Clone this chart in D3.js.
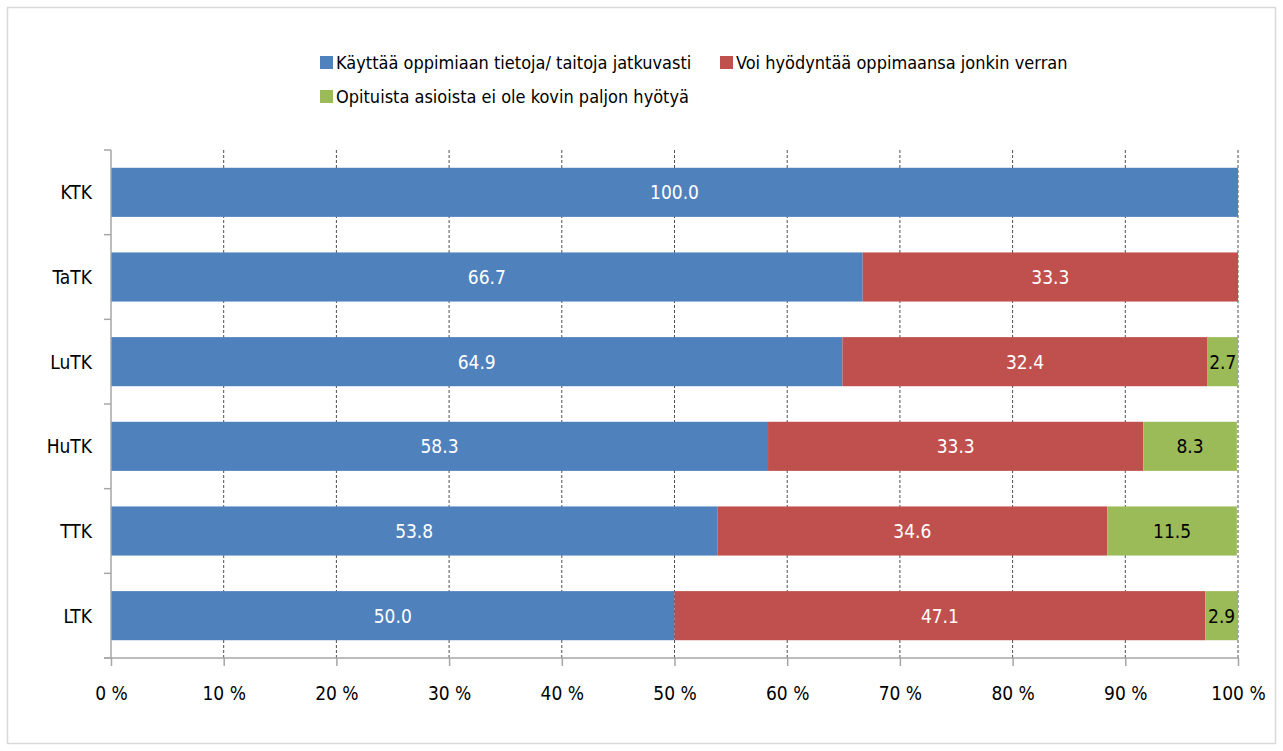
<!DOCTYPE html>
<html>
<head>
<meta charset="utf-8">
<script src="https://cdn.jsdelivr.net/npm/d3@7"></script>
<style>
  body { margin: 0; background: #fff; }
  svg text { font-family: "Liberation Sans Narrow", "DejaVu Sans Condensed", "Open Sans", sans-serif; }
</style>
</head>
<body>
<svg id="chart" width="1283" height="751"></svg>
<script>
var categories = ["KTK", "TaTK", "LuTK", "HuTK", "TTK", "LTK"];
var seriesNames = ["Käyttää oppimiaan tietoja/ taitoja jatkuvasti",
    "Voi hyödyntää oppimaansa jonkin verran",
    "Opituista asioista ei ole kovin paljon hyötyä"];
var useAlways = [100.0, 66.7, 64.9, 58.3, 53.8, 50.0];
var useSome = [0, 33.3, 32.4, 33.3, 34.6, 47.1];
var noUse = [0, 0, 2.7, 8.3, 11.5, 2.9];
var xTicks = [0, 10, 20, 30, 40, 50, 60, 70, 80, 90, 100];

var colors = ["#4f81bd", "#c0504d", "#9bbb59"];
var labelColors = ["#fff", "#fff", "#000"];

var svg = d3.select("#chart");
var chart_width = +svg.attr("width");
var chart_height = +svg.attr("height");

// outer frame
svg.append("rect")
    .attr("x", 7.5).attr("y", 7.5)
    .attr("width", chart_width - 15).attr("height", chart_height - 15)
    .attr("fill", "#fff")
    .attr("stroke", "#d9d9d9")
    .attr("stroke-width", 1.5);

var margin = {left: 111, right: 45, top: 150, bottom: 93};
var x = d3.scaleLinear()
    .domain([0, 100])
    .range([margin.left, chart_width - margin.right]);
var y = d3.scaleBand()
    .domain(categories)
    .range([margin.top, chart_height - margin.bottom])
    .paddingInner(0.42)
    .paddingOuter(0.21);

// gridlines
svg.append("g")
    .selectAll("line")
    .data(xTicks.slice(1))
    .enter()
    .append("line")
    .attr("x1", function (d) { return x(d); })
    .attr("x2", function (d) { return x(d); })
    .attr("y1", margin.top)
    .attr("y2", chart_height - margin.bottom)
    .attr("stroke", "#222")
    .attr("stroke-width", 0.8)
    .attr("stroke-dasharray", "3,2");

// stacked data
var rows = categories.map(function (c, i) {
    return {cat: c, values: [useAlways[i], useSome[i], noUse[i]]};
});

var bars = svg.append("g");
rows.forEach(function (r) {
    var start = 0;
    r.values.forEach(function (v, k) {
        if (v > 0) {
            bars.append("rect")
                .attr("x", x(start))
                .attr("y", y(r.cat))
                .attr("width", x(start + v) - x(start))
                .attr("height", y.bandwidth())
                .attr("fill", colors[k]);
            bars.append("text")
                .attr("x", (x(start) + x(start + v)) / 2)
                .attr("y", y(r.cat) + y.bandwidth() / 2)
                .attr("dy", "0.36em")
                .attr("text-anchor", "middle")
                .attr("font-size", "19px")
                .attr("fill", labelColors[k])
                .text(v.toFixed(1));
        }
        start += v;
    });
});

// y axis
var yAxis = svg.append("g")
    .attr("transform", "translate(" + margin.left + ",0)");
yAxis.append("line")
    .attr("x1", 0).attr("x2", 0)
    .attr("y1", margin.top).attr("y2", chart_height - margin.bottom)
    .attr("stroke", "#a6a6a6").attr("stroke-width", 1.5);
var step = y.step();
d3.range(categories.length + 1).forEach(function (i) {
    var yy = margin.top + i * step;
    yAxis.append("line")
        .attr("x1", -7).attr("x2", 0)
        .attr("y1", yy).attr("y2", yy)
        .attr("stroke", "#a6a6a6").attr("stroke-width", 1.5);
});
yAxis.selectAll("text.cat")
    .data(categories)
    .enter()
    .append("text")
    .attr("class", "cat")
    .attr("x", -19)
    .attr("y", function (d) { return y(d) + y.bandwidth() / 2; })
    .attr("dy", "0.36em")
    .attr("text-anchor", "end")
    .attr("font-size", "19px")
    .attr("fill", "#000")
    .text(function (d) { return d; });

// x axis
var xAxis = svg.append("g")
    .attr("transform", "translate(0," + (chart_height - margin.bottom) + ")")
    .call(d3.axisBottom(x)
        .tickValues(xTicks)
        .tickSize(8)
        .tickFormat(function (d) { return d + " %"; }));
xAxis.select(".domain").attr("stroke", "#a6a6a6").attr("stroke-width", 1.5)
    .attr("d", "M" + (margin.left - 7) + ",0H" + x(100));
xAxis.selectAll(".tick line").attr("stroke", "#a6a6a6").attr("stroke-width", 1.5);
xAxis.selectAll(".tick text")
    .attr("font-size", "19px")
    .attr("fill", "#000")
    .attr("font-family", "'Liberation Sans Narrow', 'DejaVu Sans Condensed', sans-serif")
    .attr("y", 29);

// legend
var legendItems = [
    {name: seriesNames[0], color: colors[0], x: 320, y: 63},
    {name: seriesNames[1], color: colors[1], x: 720, y: 63},
    {name: seriesNames[2], color: colors[2], x: 320, y: 97}
];
var legend = svg.append("g");
legendItems.forEach(function (d) {
    legend.append("rect")
        .attr("x", d.x).attr("y", d.y - 7)
        .attr("width", 13).attr("height", 13)
        .attr("fill", d.color);
    legend.append("text")
        .attr("x", d.x + 16).attr("y", d.y)
        .attr("dy", "0.36em")
        .attr("font-size", "18px")
        .attr("fill", "#000")
        .text(d.name);
});
</script>
</body>
</html>
